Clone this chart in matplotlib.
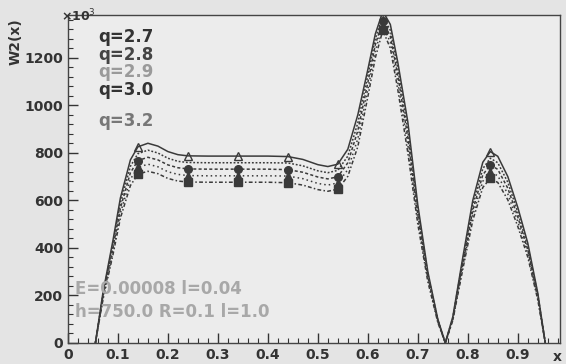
#!/usr/bin/env python3
"""
W2(x) curves for several q values, ROOT-style frame.
"""

import matplotlib
matplotlib.use("Agg")
import matplotlib.pyplot as plt
from matplotlib.ticker import MultipleLocator

# sample positions along x
x = [0.055, 0.07, 0.09, 0.105, 0.125, 0.14, 0.16, 0.18, 0.20, 0.22,
     0.24, 0.28, 0.34, 0.40, 0.44, 0.47, 0.50, 0.52, 0.54, 0.56,
     0.58, 0.60, 0.615, 0.63, 0.645, 0.66, 0.68, 0.70, 0.72, 0.74,
     0.755, 0.77, 0.79, 0.81, 0.83, 0.845, 0.86, 0.88, 0.90, 0.92,
     0.94, 0.955]

# W2(x) in units of 10^3
w_q27 = [0, 210, 430, 610, 770, 825, 840, 828, 805, 792,
         787, 786, 786, 786, 784, 772, 750, 742, 752, 815,
         960, 1150, 1300, 1395, 1340, 1180, 930, 580, 300, 100,
         0, 110, 360, 600, 760, 805, 785, 700, 570, 420,
         210, 0]
w_q28 = [0, 203, 415, 589, 743, 796, 811, 799, 777, 764,
         759, 758, 758, 758, 757, 745, 724, 716, 726, 786,
         926, 1125, 1280, 1375, 1315, 1155, 897, 560, 290, 97,
         0, 106, 347, 579, 733, 777, 758, 676, 550, 405,
         203, 0]
w_q29 = [0, 195, 400, 567, 716, 767, 781, 770, 749, 737,
         732, 731, 731, 731, 729, 718, 698, 690, 699, 758,
         893, 1095, 1255, 1355, 1290, 1125, 865, 539, 279, 93,
         0, 102, 335, 558, 707, 749, 730, 651, 530, 391,
         195, 0]
w_q30 = [0, 188, 385, 546, 689, 738, 752, 741, 720, 709,
         704, 703, 703, 703, 702, 691, 671, 664, 673, 729,
         859, 1065, 1230, 1335, 1265, 1095, 832, 519, 269, 90,
         0, 98, 322, 537, 680, 720, 703, 627, 510, 376,
         188, 0]
w_q32 = [0, 181, 370, 525, 662, 710, 722, 712, 692, 681,
         677, 676, 676, 676, 674, 664, 645, 638, 647, 701,
         826, 1035, 1200, 1315, 1240, 1065, 800, 499, 258, 86,
         0, 95, 310, 516, 654, 692, 675, 602, 490, 361,
         181, 0]

q_labels = ["q=2.7", "q=2.8", "q=2.9", "q=3.0", "q=3.2"]
marker_idx = [5, 10, 12, 14, 18, 23, 35]

x_ticks = [0, 0.1, 0.2, 0.3, 0.4, 0.5, 0.6, 0.7, 0.8, 0.9]
y_ticks = [0, 200, 400, 600, 800, 1000, 1200]


def main():
    fig = plt.figure(figsize=(5.66, 3.64), dpi=100, facecolor="#e4e4e4")
    ax = fig.add_axes([0.120, 0.058, 0.869, 0.901], facecolor="#ececec")

    lc = "#3a3a3a"
    series = [w_q27, w_q28, w_q29, w_q30, w_q32]
    styles = ["-", (0, (1.2, 1.2)), (0, (2, 1.5)), (0, (1, 2)), (0, (2.5, 1.5, 1, 1.5))]
    markers = ["^", None, "o", "^", "s"]
    mfill = ["none", None, lc, lc, lc]
    for w, ls, mk, mf in zip(series, styles, markers, mfill):
        ax.plot(x, w, color=lc, lw=1.1, ls=ls,
                marker=mk, markevery=marker_idx if mk else None,
                ms=5.5, mfc=mf, mec=lc)

    ax.set_xlim(0, 0.984)
    ax.set_ylim(0, 1380)
    ax.set_xticks(x_ticks)
    ax.set_xticklabels(["0"] + ["%.1f" % v for v in x_ticks[1:]])
    ax.set_yticks(y_ticks)
    ax.xaxis.set_minor_locator(MultipleLocator(0.02))
    ax.yaxis.set_minor_locator(MultipleLocator(40))
    ax.tick_params(which="both", direction="in", top=False, right=False,
                   color="#333333", labelcolor="#333333", labelsize=10)
    ax.tick_params(which="major", length=7, width=1)
    ax.tick_params(which="minor", length=3.5, width=0.8)
    for lab in ax.get_xticklabels() + ax.get_yticklabels():
        lab.set_fontweight("bold")
    for sp in ax.spines.values():
        sp.set_color("#444444")
        sp.set_linewidth(1)

    # axis titles, ROOT style at the ends
    fig.text(0.027, 0.885, "W2(x)", rotation=90, ha="center", va="center",
             fontsize=10, fontweight="bold", color="#333333")
    fig.text(0.108, 0.955, "\u00d710$^{3}$", ha="left", va="center",
             fontsize=9, fontweight="bold", color="#333333")
    fig.text(0.993, 0.02, "x", ha="right", va="center",
             fontsize=10, fontweight="bold", color="#333333")

    # q labels
    q_colors = ["#333333", "#444444", "#9a9a9a", "#333333", "#777777"]
    q_y = [1287, 1213, 1138, 1066, 933]
    for lab, c, yy in zip(q_labels, q_colors, q_y):
        ax.text(0.06, yy, lab, fontsize=12, fontweight="bold", color=c,
                ha="left", va="center")

    # parameter box text
    ax.text(0.015, 225, "E=0.00008 l=0.04", fontsize=12, fontweight="bold",
            color="#a8a8a8", ha="left", va="center")
    ax.text(0.015, 130, "h=750.0 R=0.1 l=1.0", fontsize=12, fontweight="bold",
            color="#a8a8a8", ha="left", va="center")

    fig.savefig("out.png", dpi=100, facecolor=fig.get_facecolor())


if __name__ == "__main__":
    main()
